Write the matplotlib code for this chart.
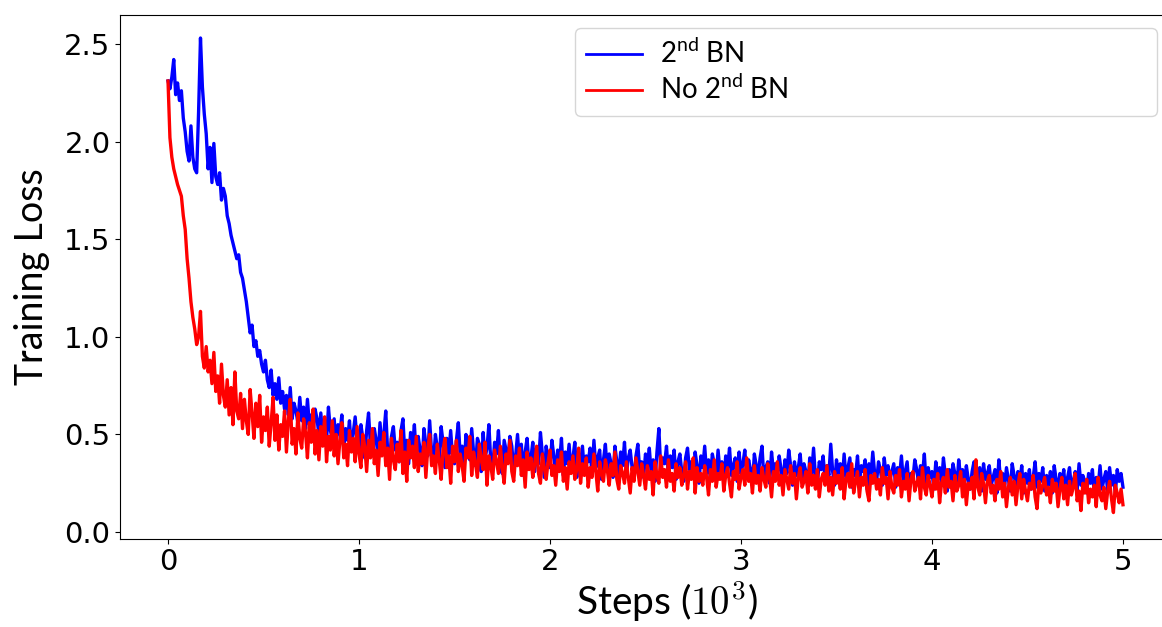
import numpy as np
import matplotlib
matplotlib.use("Agg")
import matplotlib.pyplot as plt

plt.rcParams['mathtext.fontset'] = 'custom'
plt.rcParams['mathtext.rm'] = 'Lato'
plt.rcParams['mathtext.it'] = 'Lato:italic'

# training loss, one value every 10 steps (0 .. 5000)
step_size = 10
loss_bn = [
    2.31, 2.27, 2.33, 2.42, 2.24, 2.30, 2.21, 2.26, 2.12, 2.05,
    1.95, 1.90, 2.08, 1.92, 1.86, 1.84, 2.15, 2.53, 2.28, 2.14,
    2.04, 1.86, 1.97, 1.79, 1.99, 1.82, 1.78, 1.84, 1.70, 1.76,
    1.72, 1.62, 1.58, 1.52, 1.48, 1.44, 1.40, 1.42, 1.33, 1.30,
    1.24, 1.18, 1.10, 1.02, 1.06, 0.95, 0.98, 0.90, 0.93, 0.86,
    0.82, 0.88, 0.78, 0.74, 0.83, 0.70, 0.76, 0.68, 0.79, 0.66,
    0.72, 0.63, 0.70, 0.60, 0.74, 0.58, 0.66, 0.62, 0.56, 0.69,
    0.57, 0.64, 0.53, 0.68, 0.55, 0.60, 0.51, 0.63, 0.58, 0.50,
    0.61, 0.49, 0.56, 0.47, 0.64, 0.52, 0.48, 0.58, 0.45, 0.55,
    0.50, 0.60, 0.44, 0.53, 0.47, 0.57, 0.43, 0.51, 0.59, 0.46,
    0.42, 0.55, 0.48, 0.38, 0.52, 0.61, 0.44, 0.40, 0.53, 0.47,
    0.39, 0.56, 0.43, 0.50, 0.62, 0.41, 0.37, 0.49, 0.54, 0.42,
    0.46, 0.36, 0.52, 0.58, 0.40, 0.47, 0.35, 0.51, 0.44, 0.55,
    0.38, 0.49, 0.42, 0.34, 0.53, 0.45, 0.39, 0.57, 0.41, 0.36,
    0.50, 0.43, 0.37, 0.54, 0.46, 0.33, 0.48, 0.40, 0.52, 0.38,
    0.35, 0.47, 0.56, 0.39, 0.44, 0.32, 0.50, 0.42, 0.37, 0.53,
    0.41, 0.34, 0.48, 0.45, 0.31, 0.51, 0.38, 0.43, 0.55, 0.36,
    0.33, 0.46, 0.40, 0.52, 0.35, 0.30, 0.47, 0.42, 0.37, 0.49,
    0.44, 0.32, 0.39, 0.50, 0.36, 0.45, 0.29, 0.41, 0.48, 0.34,
    0.38, 0.46, 0.31, 0.43, 0.35, 0.51, 0.40, 0.28, 0.44, 0.37,
    0.33, 0.47, 0.39, 0.30, 0.42, 0.36, 0.48, 0.29, 0.41, 0.35,
    0.45, 0.32, 0.38, 0.46, 0.28, 0.40, 0.34, 0.44, 0.31, 0.39,
    0.36, 0.43, 0.29, 0.47, 0.33, 0.38, 0.42, 0.27, 0.37, 0.45,
    0.31, 0.40, 0.35, 0.28, 0.44, 0.36, 0.30, 0.41, 0.34, 0.46,
    0.29, 0.38, 0.42, 0.33, 0.27, 0.39, 0.45, 0.31, 0.36, 0.28,
    0.40, 0.34, 0.43, 0.30, 0.37, 0.26, 0.41, 0.53, 0.32, 0.38,
    0.35, 0.44, 0.29, 0.39, 0.33, 0.42, 0.27, 0.36, 0.40, 0.31,
    0.26, 0.38, 0.43, 0.32, 0.36, 0.29, 0.41, 0.34, 0.25, 0.39,
    0.33, 0.44, 0.30, 0.37, 0.27, 0.40, 0.35, 0.28, 0.42, 0.31,
    0.36, 0.25, 0.39, 0.33, 0.43, 0.29, 0.34, 0.38, 0.26, 0.41,
    0.30, 0.35, 0.42, 0.28, 0.37, 0.32, 0.24, 0.40, 0.34, 0.29,
    0.38, 0.44, 0.27, 0.33, 0.36, 0.25, 0.41, 0.31, 0.35, 0.28,
    0.39, 0.32, 0.26, 0.37, 0.30, 0.42, 0.34, 0.24, 0.36, 0.29,
    0.33, 0.40, 0.27, 0.35, 0.31, 0.23, 0.38, 0.30, 0.43, 0.28,
    0.25, 0.36, 0.32, 0.39, 0.27, 0.34, 0.29, 0.45, 0.31, 0.24,
    0.37, 0.30, 0.35, 0.26, 0.40, 0.28, 0.33, 0.38, 0.23, 0.32,
    0.29, 0.39, 0.25, 0.34, 0.31, 0.37, 0.22, 0.35, 0.28, 0.41,
    0.30, 0.26, 0.36, 0.32, 0.24, 0.38, 0.29, 0.34, 0.27, 0.31,
    0.35, 0.23, 0.33, 0.28, 0.39, 0.26, 0.31, 0.36, 0.22, 0.30,
    0.27, 0.37, 0.32, 0.25, 0.34, 0.29, 0.40, 0.24, 0.33, 0.28,
    0.31, 0.22, 0.36, 0.27, 0.33, 0.25, 0.38, 0.29, 0.21, 0.32,
    0.26, 0.35, 0.30, 0.23, 0.37, 0.28, 0.32, 0.24, 0.34, 0.27,
    0.22, 0.31, 0.36, 0.25, 0.29, 0.33, 0.21, 0.35, 0.27, 0.30,
    0.34, 0.24, 0.28, 0.32, 0.20, 0.37, 0.26, 0.30, 0.23, 0.33,
    0.27, 0.21, 0.35, 0.29, 0.24, 0.31, 0.26, 0.34, 0.20, 0.30,
    0.25, 0.32, 0.22, 0.28, 0.36, 0.23, 0.30, 0.26, 0.33, 0.21,
    0.29, 0.24, 0.31, 0.20, 0.34, 0.27, 0.22, 0.30, 0.25, 0.32,
    0.19, 0.28, 0.33, 0.23, 0.26, 0.31, 0.21, 0.35, 0.24, 0.29,
    0.26, 0.20, 0.30, 0.25, 0.32, 0.19, 0.28, 0.23, 0.34, 0.22,
    0.27, 0.31, 0.21, 0.33, 0.24, 0.29, 0.20, 0.32, 0.26, 0.30,
    0.23,
]
loss_no_bn = [
    2.31, 2.02, 1.92, 1.86, 1.82, 1.78, 1.75, 1.72, 1.62, 1.55,
    1.40, 1.30, 1.18, 1.10, 1.04, 0.96, 1.00, 1.13, 0.90, 0.84,
    0.95, 0.82, 0.88, 0.76, 0.92, 0.72, 0.80, 0.66, 0.86, 0.70,
    0.64, 0.78, 0.60, 0.74, 0.55, 0.82, 0.62, 0.58, 0.71, 0.53,
    0.68, 0.57, 0.50, 0.73, 0.61, 0.48, 0.66, 0.54, 0.70, 0.46,
    0.59, 0.52, 0.64, 0.44, 0.56, 0.69, 0.47, 0.60, 0.42, 0.55,
    0.49, 0.62, 0.41, 0.57, 0.68, 0.45, 0.53, 0.40, 0.61, 0.48,
    0.43, 0.58, 0.51, 0.38, 0.56, 0.46, 0.63, 0.40, 0.52, 0.37,
    0.54, 0.44, 0.59, 0.36, 0.49, 0.42, 0.57, 0.39, 0.50, 0.35,
    0.47, 0.56, 0.38, 0.45, 0.34, 0.52, 0.41, 0.48, 0.36, 0.54,
    0.40, 0.33, 0.50, 0.44, 0.31, 0.47, 0.38, 0.53, 0.35, 0.42,
    0.29, 0.46, 0.39, 0.51, 0.34, 0.43, 0.27, 0.48, 0.37, 0.32,
    0.45, 0.36, 0.52, 0.30, 0.41, 0.26, 0.47, 0.38, 0.44, 0.33,
    0.49, 0.31, 0.40, 0.35, 0.46, 0.28, 0.43, 0.50, 0.34, 0.39,
    0.30, 0.45, 0.37, 0.27, 0.42, 0.48, 0.33, 0.39, 0.25, 0.44,
    0.36, 0.47, 0.31, 0.40, 0.34, 0.26, 0.43, 0.38, 0.49, 0.29,
    0.41, 0.35, 0.28, 0.45, 0.37, 0.32, 0.46, 0.24, 0.39, 0.34,
    0.27, 0.42, 0.36, 0.30, 0.44, 0.33, 0.25, 0.40, 0.35, 0.47,
    0.31, 0.26, 0.39, 0.34, 0.43, 0.29, 0.37, 0.23, 0.41, 0.32,
    0.38, 0.28, 0.35, 0.44, 0.30, 0.25, 0.40, 0.33, 0.27, 0.36,
    0.42, 0.29, 0.34, 0.24, 0.37, 0.31, 0.41, 0.26, 0.33, 0.22,
    0.36, 0.30, 0.39, 0.27, 0.32, 0.43, 0.25, 0.35, 0.29, 0.38,
    0.23, 0.33, 0.28, 0.40, 0.31, 0.21, 0.36, 0.30, 0.26, 0.37,
    0.32, 0.24, 0.35, 0.29, 0.41, 0.27, 0.22, 0.34, 0.30, 0.25,
    0.36, 0.28, 0.20, 0.33, 0.26, 0.38, 0.31, 0.24, 0.35, 0.29,
    0.22, 0.34, 0.27, 0.31, 0.19, 0.36, 0.29, 0.25, 0.39, 0.28,
    0.32, 0.23, 0.37, 0.26, 0.30, 0.21, 0.35, 0.28, 0.33, 0.24,
    0.29, 0.36, 0.22, 0.31, 0.27, 0.38, 0.20, 0.33, 0.26, 0.30,
    0.24, 0.34, 0.28, 0.19, 0.32, 0.26, 0.37, 0.23, 0.30, 0.27,
    0.35, 0.21, 0.29, 0.33, 0.25, 0.18, 0.31, 0.27, 0.36, 0.22,
    0.28, 0.32, 0.24, 0.38, 0.26, 0.30, 0.20, 0.34, 0.25, 0.29,
    0.21, 0.33, 0.27, 0.23, 0.35, 0.28, 0.18, 0.31, 0.26, 0.36,
    0.24, 0.29, 0.19, 0.32, 0.27, 0.22, 0.34, 0.25, 0.30, 0.17,
    0.28, 0.33, 0.23, 0.26, 0.31, 0.20, 0.35, 0.24, 0.29, 0.22,
    0.32, 0.18, 0.27, 0.30, 0.24, 0.34, 0.21, 0.28, 0.19, 0.31,
    0.25, 0.29, 0.22, 0.33, 0.17, 0.27, 0.30, 0.23, 0.35, 0.20,
    0.26, 0.31, 0.18, 0.28, 0.24, 0.32, 0.21, 0.16, 0.29, 0.25,
    0.30, 0.22, 0.27, 0.19, 0.33, 0.25, 0.28, 0.17, 0.31, 0.23,
    0.20, 0.29, 0.24, 0.32, 0.18, 0.26, 0.22, 0.30, 0.16, 0.27,
    0.31, 0.21, 0.25, 0.28, 0.17, 0.33, 0.23, 0.19, 0.29, 0.24,
    0.18, 0.27, 0.22, 0.30, 0.15, 0.25, 0.28, 0.20, 0.32, 0.23,
    0.26, 0.16, 0.29, 0.21, 0.24, 0.31, 0.18, 0.27, 0.14, 0.25,
    0.22, 0.28, 0.17, 0.37, 0.23, 0.19, 0.30, 0.25, 0.15, 0.26,
    0.29, 0.20, 0.24, 0.16, 0.27, 0.22, 0.31, 0.18, 0.25, 0.13,
    0.23, 0.28, 0.19, 0.26, 0.14, 0.24, 0.30, 0.17, 0.27, 0.21,
    0.16, 0.25, 0.22, 0.29, 0.18, 0.12, 0.26, 0.20, 0.24, 0.28,
    0.19, 0.23, 0.15, 0.27, 0.21, 0.25, 0.13, 0.22, 0.28, 0.17,
    0.24, 0.14, 0.26, 0.19, 0.23, 0.30, 0.16, 0.21, 0.11, 0.25,
    0.20, 0.27, 0.15, 0.22, 0.18, 0.24, 0.13, 0.28, 0.19, 0.16,
    0.23, 0.12, 0.21, 0.26, 0.17, 0.10, 0.24, 0.20, 0.15, 0.22,
    0.14,
]
labels = [r'2$^{\mathrm{nd}}$ BN', r'No 2$^{\mathrm{nd}}$ BN']

steps_bn = np.arange(len(loss_bn)) * step_size / 1000.0
steps_no_bn = np.arange(len(loss_no_bn)) * step_size / 1000.0

fig = plt.figure(figsize=(11.62, 6.27), dpi=100)
ax = fig.add_axes([0.1035, 0.1411, 0.904, 0.835])

ax.plot(steps_bn, loss_bn, color='blue', lw=2.4, label=labels[0])
ax.plot(steps_no_bn, loss_no_bn, color='red', lw=2.4, label=labels[1])

ax.set_xlim(-0.25, 5.25)
ax.set_ylim(-0.033, 2.648)
ax.set_xticks([0, 1, 2, 3, 4, 5])
ax.set_yticks([0.0, 0.5, 1.0, 1.5, 2.0, 2.5])
ax.tick_params(labelsize=21)
ax.spines['right'].set_visible(False)

ax.set_xlabel(r'Steps ($10^3$)', family='Lato', fontsize=28, math_fontfamily='cm')
ax.xaxis.set_label_coords(0.5205, -0.076)
ax.set_ylabel('Training Loss', family='Lato', fontsize=27, labelpad=10)

leg = ax.legend(loc='upper left', bbox_to_anchor=(0.4329, 0.0, 0.554, 0.9752),
                mode='expand', borderaxespad=0, prop={'family': 'Lato', 'size': 20},
                labelspacing=0.25, handletextpad=0.65)
for l in leg.get_lines():
    l.set_linewidth(2)

fig.savefig('out.png', dpi=100)
